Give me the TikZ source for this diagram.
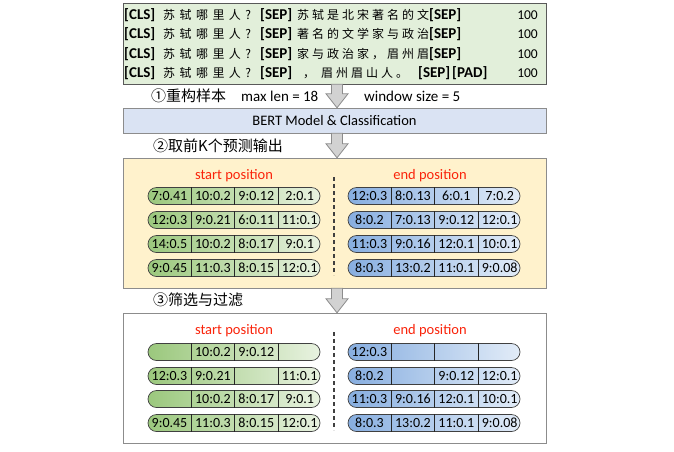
\documentclass[tikz,border=0pt]{standalone}
\usepackage{fontspec}
\setmainfont{Carlito}
\newfontfamily\cjkq[LetterSpace=37]{Noto Sans CJK SC}
\newfontfamily\cjk[LetterSpace=25]{Noto Sans CJK SC}
\newfontfamily\cjkhead{Noto Sans CJK SC}
\usetikzlibrary{positioning}

\definecolor{samplegreen}{RGB}{226,239,218}
\definecolor{bertblue}{RGB}{218,227,243}
\definecolor{topkyellow}{RGB}{255,242,204}
\definecolor{greendark}{RGB}{155,200,125}
\definecolor{greenlight}{RGB}{232,242,224}
\definecolor{bluedark}{RGB}{135,174,224}
\definecolor{bluelight}{RGB}{226,236,248}
\definecolor{posred}{RGB}{250,35,10}
\definecolor{arrowgray}{RGB}{210,210,210}
\definecolor{edgegray}{RGB}{140,140,140}

\tikzstyle{box_sample} = [draw=black!65, fill=samplegreen, minimum width=423pt, minimum height=81pt, inner sep=0pt]
\tikzstyle{box_bert} = [draw=edgegray, fill=bertblue, minimum width=423pt, minimum height=25pt, inner sep=0pt, font=\fontsize{14.5}{16}\selectfont]
\tikzstyle{box_topk} = [draw=edgegray, fill=topkyellow, minimum width=423pt, minimum height=130pt, inner sep=0pt]
\tikzstyle{box_filter} = [draw=edgegray, fill=white, minimum width=423pt, minimum height=130pt, inner sep=0pt]
\tikzstyle{block_arrow} = [draw=edgegray, fill=arrowgray, line width=0.8pt]
\tikzstyle{token} = [anchor=west, inner sep=0pt, font=\fontsize{13.5}{15}\selectfont]
\tikzstyle{token_bold} = [token, font=\fontsize{15}{16}\selectfont\bfseries]
\tikzstyle{token_q} = [anchor=west, inner sep=0pt, font=\fontsize{12}{15}\cjkq]
\tikzstyle{token_cjk} = [anchor=west, inner sep=0pt, font=\fontsize{12}{15}\cjk]
\tikzstyle{step_label} = [anchor=west, inner sep=0pt, font=\fontsize{15}{17}\selectfont]
\tikzstyle{pos_label} = [text=posred, inner sep=0pt, font=\fontsize{14.5}{16}\selectfont]
\tikzstyle{pill_start} = [draw=black!75, line width=0.7pt, rounded corners=8.5pt, left color=greendark, right color=greenlight, minimum width=172pt, minimum height=17pt, inner sep=0pt]
\tikzstyle{pill_end} = [pill_start, left color=bluedark, right color=bluelight]
\tikzstyle{cell} = [minimum width=43pt, minimum height=17pt, inner sep=0pt, font=\fontsize{14}{15}\selectfont]
\tikzstyle{cell_line} = [black!85, line width=0.6pt]
\tikzstyle{split_line} = [black!75, line width=1.3pt, dash pattern=on 4pt off 3pt]

% grey block arrow from box #1 down to box #2
\newcommand{\blockarrow}[2]{%
  \path (#1.south -| ax) coordinate (#1-tail) (#2.north -| ax) coordinate (#2-tip);
  \draw[block_arrow] ([xshift=-5.5pt]#1-tail) -- ([xshift=5.5pt]#1-tail)
    -- ([xshift=5.5pt,yshift=14pt]#2-tip) -- ([xshift=11pt,yshift=14pt]#2-tip)
    -- (#2-tip) -- ([xshift=-11pt,yshift=14pt]#2-tip)
    -- ([xshift=-5.5pt,yshift=14pt]#2-tip) -- cycle;}

% one row of four scores
\newcommand{\scorerow}[8]{%
  \node (#1) at (#3,#4) [#2] {};
  \node (#1-1) at ([xshift=-64.5pt]#1.center) [cell] {#5};
  \node (#1-2) [cell, right=0pt of #1-1] {#6};
  \node (#1-3) [cell, right=0pt of #1-2] {#7};
  \node (#1-4) [cell, right=0pt of #1-3] {#8};
  \draw[cell_line] (#1-1.north east) -- (#1-1.south east)
    (#1-2.north east) -- (#1-2.south east)
    (#1-3.north east) -- (#1-3.south east);}

\begin{document}
\begin{tikzpicture}[x=1pt,y=-1pt]
\useasboundingbox (0,0) rectangle (674,451);

\node (sample) at (334.5,43.5) [box_sample] {};
\node (bert) at (334.5,120.5) [box_bert] {BERT Model \& Classification};
\node (topk) at (334.5,223) [box_topk] {};
\node (filter) at (334.5,378) [box_filter] {};

\coordinate (ax) at (337,0);
\blockarrow{sample}{bert}
\blockarrow{bert}{topk}
\blockarrow{topk}{filter}

% samples
\foreach \y [count=\r] in {15,34,54,73}
{
  \node (cls\r) at (124,\y) [token_bold] {[CLS]};
  \node (qry\r) at (163,\y) [token_q] {苏轼哪里人?};
  \node (sep\r) at (260,\y) [token_bold] {[SEP]};
  \node (num\r) at (538,\y) [token, anchor=east] {100};
}
\node (doc1) at (297,15) [token_cjk] {苏轼是北宋著名的文};
\node (doc2) at (297,34) [token_cjk] {著名的文学家与政治};
\node (doc3) at (297,54) [token_cjk] {家与政治家，眉州眉};
\node (doc4) at (303,73) [token_cjk] {，\hspace{6pt}眉州眉山人。};
\node (end1) at (429,15) [token_bold] {[SEP]};
\node (end2) at (429,34) [token_bold] {[SEP]};
\node (end3) at (429,54) [token_bold] {[SEP]};
\node (end4) at (418,73) [token_bold] {[SEP]};
\node (pad4) at (452,73) [token_bold] {[PAD]};

% steps
\node (step1) at (151,96) [step_label] {\cjkhead ①重构样本};
\node (maxlen) at (241,96) [step_label] {max len = 18};
\node (window) at (364,96) [step_label] {window size = 5};
\node (step2) at (153,146) [step_label] {\cjkhead ②取前K个预测输出};
\node (step3) at (153,300) [step_label] {\cjkhead ③筛选与过滤};

% top k
\node (kstart) at (234,176) [pos_label] {start position};
\node (kend) at (430,176) [pos_label] {end position};
\draw[split_line] (334,177) -- (334,275);
\foreach \y/\sa/\sb/\sc/\sd [count=\r] in {196/7:0.41/10:0.2/9:0.12/2:0.1, 220/12:0.3/9:0.21/6:0.11/11:0.1, 244/14:0.5/10:0.2/8:0.17/9:0.1, 268/9:0.45/11:0.3/8:0.15/12:0.1}
  {\scorerow{ks\r}{pill_start}{234}{\y}{\sa}{\sb}{\sc}{\sd}}
\foreach \y/\sa/\sb/\sc/\sd [count=\r] in {196/12:0.3/8:0.13/6:0.1/7:0.2, 220/8:0.2/7:0.13/9:0.12/12:0.1, 244/11:0.3/9:0.16/12:0.1/10:0.1, 268/8:0.3/13:0.2/11:0.1/9:0.08}
  {\scorerow{ke\r}{pill_end}{434}{\y}{\sa}{\sb}{\sc}{\sd}}

% filtered
\node (fstart) at (234,331) [pos_label] {start position};
\node (fend) at (430,331) [pos_label] {end position};
\draw[split_line] (334,332) -- (334,430);
\foreach \y/\sa/\sb/\sc/\sd [count=\r] in {352/{}/10:0.2/9:0.12/{}, 376/12:0.3/9:0.21/{}/11:0.1, 399/{}/10:0.2/8:0.17/9:0.1, 423/9:0.45/11:0.3/8:0.15/12:0.1}
  {\scorerow{fs\r}{pill_start}{234}{\y}{\sa}{\sb}{\sc}{\sd}}
\foreach \y/\sa/\sb/\sc/\sd [count=\r] in {352/12:0.3/{}/{}/{}, 376/8:0.2/{}/9:0.12/12:0.1, 399/11:0.3/9:0.16/12:0.1/10:0.1, 423/8:0.3/13:0.2/11:0.1/9:0.08}
  {\scorerow{fe\r}{pill_end}{434}{\y}{\sa}{\sb}{\sc}{\sd}}
\end{tikzpicture}
\end{document}
